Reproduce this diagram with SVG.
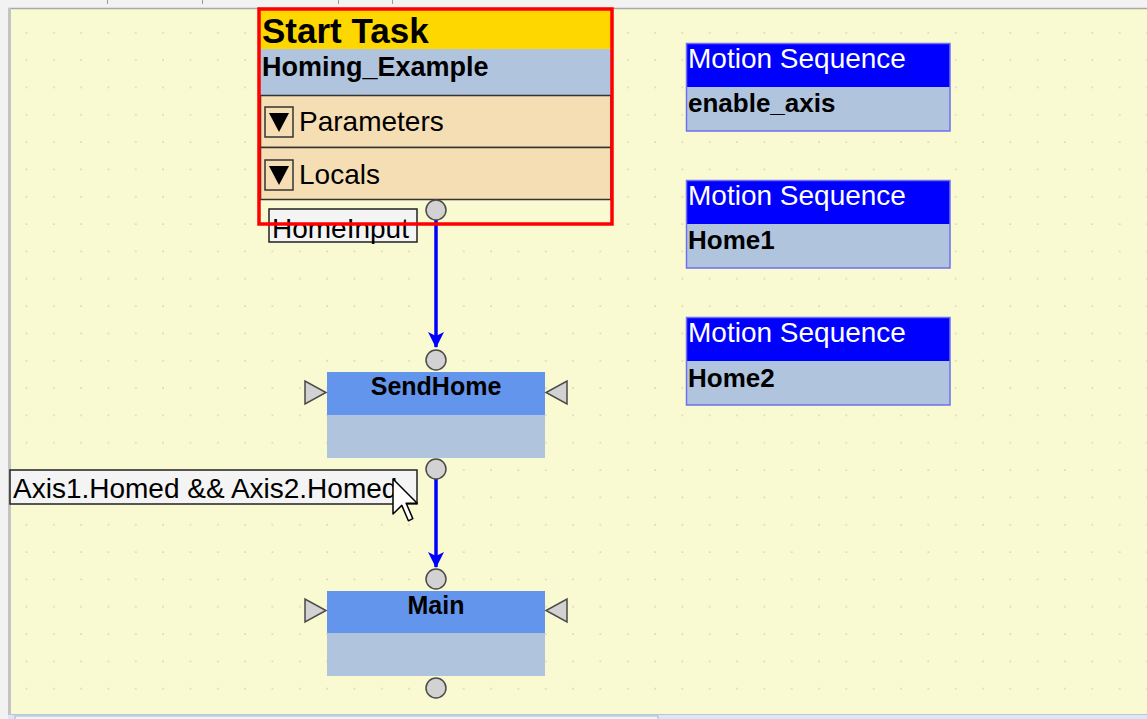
<svg xmlns="http://www.w3.org/2000/svg" width="1147" height="719" viewBox="0 0 1147 719">
<defs>
<pattern id="grid" x="25.4" y="4.4" width="27.33" height="27.33" patternUnits="userSpaceOnUse">
<rect x="0.3" y="0.3" width="1.6" height="1.6" fill="#d4d4bc"/>
</pattern>
<marker id="arr" viewBox="0 0 16 16" refX="15" refY="8" markerWidth="16" markerHeight="16" markerUnits="userSpaceOnUse" orient="auto">
<path d="M0,0 L16,8 L0,16 L4,8 Z" fill="#0000ff"/>
</marker>
<style>
.t{font-family:"Liberation Sans",Arial,sans-serif;fill:#000}
.b{font-weight:bold}
.port{fill:#d2d2d2;stroke:#4a4a4a;stroke-width:1.5}
.tri{fill:#d2d2d2;stroke:#4a4a4a;stroke-width:1.5}
.hdr{fill:#6495ed}
.body{fill:#b0c4de}
.msh{fill:#0000ff}
.msb{fill:#b0c4de}
.msframe{fill:none;stroke:#6f6ff0;stroke-width:1.5}
.sec{fill:#f5deb3;stroke:#333;stroke-width:1.5}
.lbl{fill:#f4f4f4;stroke:#222;stroke-width:1.5}
.conn{stroke:#0000ff;stroke-width:3.5;fill:none}
</style>
</defs>
<!-- canvas -->
<rect x="0" y="0" width="1147" height="719" fill="#fafad2"/>
<rect x="0" y="0" width="1147" height="719" fill="url(#grid)"/>
<rect x="0" y="0" width="1147" height="8" fill="#f2f2f2"/>
<line x1="0" y1="8.5" x2="1147" y2="8.5" stroke="#a8a8a8" stroke-width="1.5"/>
<g stroke="#9a9a9a" stroke-width="1">
<line x1="107.5" y1="0" x2="107.5" y2="4"/><line x1="202.5" y1="0" x2="202.5" y2="4"/><line x1="338.5" y1="0" x2="338.5" y2="4"/><line x1="392.5" y1="0" x2="392.5" y2="4"/>
</g>
<rect x="0" y="0" width="8" height="719" fill="#f2f2f2"/>
<rect x="8" y="8" width="3" height="711" fill="#c4c4c4"/>
<rect x="8" y="714" width="1139" height="5" fill="#dde7f3"/>
<line x1="8" y1="714.5" x2="1147" y2="714.5" stroke="#b8c8dc" stroke-width="1"/>
<rect x="15" y="716" width="643" height="4" fill="#eef3f9" stroke="#a8b6c8" stroke-width="1"/>

<g id="connectors">
<line class="conn" x1="436" y1="220" x2="436" y2="347" marker-end="url(#arr)"/>
<line class="conn" x1="436" y1="479" x2="436" y2="567" marker-end="url(#arr)"/>
</g>

<g id="label-homeinput">
<rect class="lbl" x="269" y="209" width="148" height="33"/>
<text class="t" x="272" y="238" font-size="28">HomeInput</text>
</g>

<g id="start-task">
<rect x="260" y="10" width="351" height="39" fill="#ffd700"/>
<text class="t b" x="262" y="43" font-size="35">Start Task</text>
<rect x="260" y="49" width="351" height="46" fill="#b0c4de"/>
<text class="t b" x="262" y="76" font-size="27">Homing_Example</text>
<rect class="sec" x="260.5" y="95.5" width="350.5" height="52"/>
<rect x="265" y="107" width="28" height="30" fill="#f5deb3" stroke="#333" stroke-width="1.5"/>
<path d="M269,113 L289,113 L279,132 Z" fill="#000"/>
<text class="t" x="299" y="131" font-size="28">Parameters</text>
<rect class="sec" x="260.5" y="147.5" width="350.5" height="52"/>
<rect x="265" y="160" width="28" height="30" fill="#f5deb3" stroke="#333" stroke-width="1.5"/>
<path d="M269,166 L289,166 L279,185 Z" fill="#000"/>
<text class="t" x="299" y="184" font-size="28">Locals</text>
<rect x="259" y="9" width="353" height="215" fill="none" stroke="#ff0000" stroke-width="3.5"/>
<circle class="port" cx="436" cy="210" r="10"/>
</g>

<g id="motion-enable-axis">
<rect class="msh" x="686" y="43" width="264" height="44"/>
<rect class="msb" x="686" y="87" width="264" height="44"/>
<rect class="msframe" x="686.5" y="43.5" width="263.5" height="87.5"/>
<text x="688" y="68" font-size="28" font-family="Liberation Sans, Arial, sans-serif" fill="#ffffff">Motion Sequence</text>
<text class="t b" x="688" y="112" font-size="26">enable_axis</text>
</g>
<g id="motion-home1">
<rect class="msh" x="686" y="180" width="264" height="44"/>
<rect class="msb" x="686" y="224" width="264" height="44"/>
<rect class="msframe" x="686.5" y="180.5" width="263.5" height="87.5"/>
<text x="688" y="205" font-size="28" font-family="Liberation Sans, Arial, sans-serif" fill="#ffffff">Motion Sequence</text>
<text class="t b" x="688" y="249" font-size="26">Home1</text>
</g>
<g id="motion-home2">
<rect class="msh" x="686" y="317" width="264" height="44"/>
<rect class="msb" x="686" y="361" width="264" height="44"/>
<rect class="msframe" x="686.5" y="317.5" width="263.5" height="87.5"/>
<text x="688" y="342" font-size="28" font-family="Liberation Sans, Arial, sans-serif" fill="#ffffff">Motion Sequence</text>
<text class="t b" x="688" y="387" font-size="26">Home2</text>
</g>

<g id="sendhome">
<rect class="hdr" x="327" y="372" width="218" height="43"/>
<rect class="body" x="327" y="415" width="218" height="43"/>
<text class="t b" x="436" y="395" font-size="25" text-anchor="middle">SendHome</text>
<path class="tri" d="M305,381 L305,404 L326,392.5 Z"/>
<path class="tri" d="M567,381 L567,404 L546,392.5 Z"/>
<circle class="port" cx="436" cy="360" r="10"/>
<circle class="port" cx="436" cy="469" r="10"/>
</g>

<g id="label-condition">
<rect class="lbl" x="10" y="470" width="407" height="34"/>
<text class="t" x="13" y="498" font-size="28">Axis1.Homed &amp;&amp; Axis2.Homed</text>
</g>

<g id="main">
<rect class="hdr" x="327" y="591" width="218" height="42"/>
<rect class="body" x="327" y="633" width="218" height="43"/>
<text class="t b" x="436" y="614" font-size="25" text-anchor="middle">Main</text>
<path class="tri" d="M305,599 L305,622 L326,610.5 Z"/>
<path class="tri" d="M567,599 L567,622 L546,610.5 Z"/>
<circle class="port" cx="436" cy="579" r="10"/>
<circle class="port" cx="436" cy="688" r="10"/>
</g>

<g id="cursor">
<path d="M393,479 L393,514 L401.8,505.4 L408.4,520.8 L412.8,518.6 L406.2,503.2 L417.2,503.2 Z" fill="#ffffff" stroke="#000" stroke-width="1.5" stroke-linejoin="round"/>
</g>
</svg>
